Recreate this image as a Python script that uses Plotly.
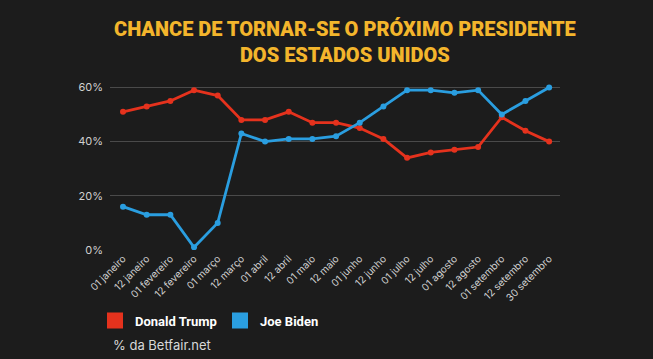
import plotly.graph_objects as go

dates = ["01 janeiro", "12 janeiro", "01 fevereiro", "12 fevereiro", "01 março", "12 março",
         "01 abril", "12 abril", "01 maio", "12 maio", "01 junho", "12 junho", "01 julho",
         "12 julho", "01 agosto", "12 agosto", "01 setembro", "12 setembro", "30 setembro"]
trump = [51, 53, 55, 59, 57, 48, 48, 51, 47, 47, 45, 41, 34, 36, 37, 38, 49, 44, 40]
biden = [16, 13, 13, 1, 10, 43, 40, 41, 41, 42, 47, 53, 59, 59, 58, 59, 50, 55, 60]
y_ticks = [0, 20, 40, 60]
y_labels = ["0%", "20%", "40%", "60%"]

RED = "#e5321d"
BLUE = "#2a9ee0"
BG = "#1c1c1c"

idx = list(range(len(dates)))
fig = go.Figure()
fig.add_trace(go.Scatter(x=idx, y=trump, mode="lines+markers", line=dict(color=RED, width=2.8),
                         marker=dict(color=RED, size=6), showlegend=False, hoverinfo="skip"))
fig.add_trace(go.Scatter(x=idx, y=biden, mode="lines+markers", line=dict(color=BLUE, width=2.8),
                         marker=dict(color=BLUE, size=6), showlegend=False, hoverinfo="skip"))
fig.add_trace(go.Scatter(x=[None], y=[None], mode="markers", name="Donald Trump",
                         marker=dict(color=RED, size=16, symbol="square"), legend="legend"))
fig.add_trace(go.Scatter(x=[None], y=[None], mode="markers", name="Joe Biden",
                         marker=dict(color=BLUE, size=16, symbol="square"), legend="legend2"))

legend_font = dict(family="Roboto", size=13, color="white", weight="bold")
fig.update_layout(
    width=653, height=359,
    paper_bgcolor=BG, plot_bgcolor=BG,
    margin=dict(l=110, r=93, t=82, b=109),
    font=dict(family="Inter", color="#d0d0d0", size=10),
    xaxis=dict(range=[-0.55, 18.46], tickmode="array", tickvals=idx, ticktext=dates,
               tickangle=-45, showgrid=False, zeroline=False, showline=False,
               tickfont=dict(size=10, color="#d0d0d0"), ticks=""),
    yaxis=dict(range=[0, 62], tickmode="array", tickvals=y_ticks, ticktext=y_labels,
               showgrid=True, gridcolor="#4a4a4a", gridwidth=1, zeroline=False,
               tickfont=dict(size=11, color="#d0d0d0"), ticks="", ticklabelstandoff=6),
    showlegend=True,
    legend=dict(orientation="h", x=(95 - 110) / 450, xanchor="left", y=-0.42, yanchor="middle",
                font=legend_font, bgcolor="rgba(0,0,0,0)", itemwidth=30),
    legend2=dict(orientation="h", x=(220 - 110) / 450, xanchor="left", y=-0.42, yanchor="middle",
                 font=legend_font, bgcolor="rgba(0,0,0,0)", itemwidth=30),
    annotations=[
        dict(text="CHANCE DE TORNAR-SE O PRÓXIMO PRESIDENTE<br>DOS ESTADOS UNIDOS",
             xref="paper", yref="paper", x=0.522, y=(250 - 42) / 168, xanchor="center",
             yanchor="middle", showarrow=False, align="center",
             font=dict(family="Roboto", size=20, color="#f3b52c", weight=900)),
        dict(text="% da Betfair.net", xref="paper", yref="paper", x=(111 - 110) / 450,
             y=(250 - 345) / 168, xanchor="left", yanchor="middle", showarrow=False,
             font=dict(family="Inter", size=13, color="#d8d8d8")),
    ],
)

fig.write_html("out.html", config={"displayModeBar": False},
               post_script="document.body.style.margin='0';document.body.style.overflow='hidden';")
